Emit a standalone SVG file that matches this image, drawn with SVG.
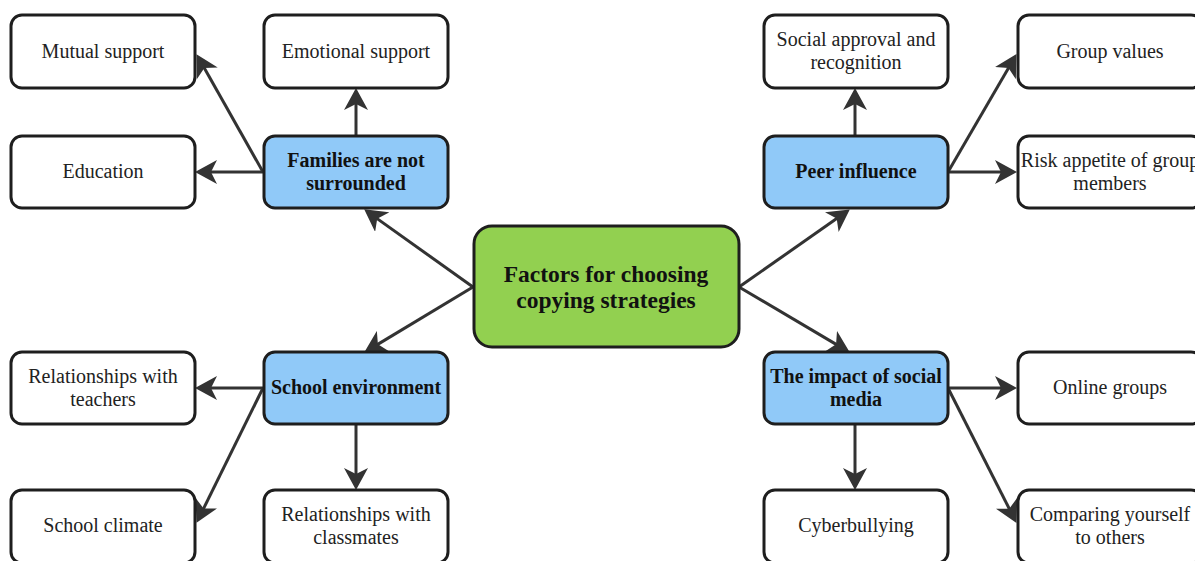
<svg xmlns="http://www.w3.org/2000/svg" width="1195" height="561" viewBox="0 0 1195 561">
<defs>
<marker id="ah" viewBox="0 0 22 24" refX="13" refY="12" markerWidth="22" markerHeight="24" markerUnits="userSpaceOnUse" orient="auto">
<path d="M0,0 L22,12 L0,24 L6,12 Z" fill="#333333"/>
</marker>
<style>
.leaf{fill:#ffffff;stroke:#1e1e1e;stroke-width:3}
.mid{fill:#90C9F8;stroke:#1e1e1e;stroke-width:3}
.root{fill:#92D050;stroke:#1e1e1e;stroke-width:3}
.t{font-family:"Liberation Serif","Times New Roman",serif;font-size:20px;fill:#222222;text-anchor:middle}
.b{font-family:"Liberation Serif","Times New Roman",serif;font-size:20px;font-weight:bold;fill:#111111;text-anchor:middle}
.c{font-family:"Liberation Serif","Times New Roman",serif;font-size:23.5px;font-weight:bold;fill:#111111;text-anchor:middle}
.e{fill:none;stroke:#333333;stroke-width:3;marker-end:url(#ah)}
</style>
</defs>
<rect width="1195" height="561" fill="#ffffff"/>
<g id="connectors">
<line class="e" x1="473" y1="287" x2="371.5" y2="214.6"/>
<line class="e" x1="473" y1="287" x2="371.9" y2="347.9"/>
<line class="e" x1="739" y1="287" x2="842.4" y2="214.6"/>
<line class="e" x1="739" y1="287" x2="842.1" y2="347.9"/>
<line class="e" x1="356" y1="135" x2="356" y2="97"/>
<line class="e" x1="263" y1="172" x2="204" y2="172"/>
<line class="e" x1="263" y1="172" x2="200.9" y2="62"/>
<line class="e" x1="855" y1="135" x2="855" y2="97"/>
<line class="e" x1="948" y1="172" x2="1008" y2="172"/>
<line class="e" x1="948" y1="172" x2="1012" y2="61.9"/>
<line class="e" x1="263" y1="388" x2="204" y2="388"/>
<line class="e" x1="263" y1="388" x2="200.5" y2="514.8"/>
<line class="e" x1="356" y1="425" x2="356" y2="481"/>
<line class="e" x1="948" y1="388" x2="1008" y2="388"/>
<line class="e" x1="948" y1="388" x2="1012.4" y2="514.9"/>
<line class="e" x1="855" y1="425" x2="855" y2="481"/>
</g>
<g id="root">
<rect class="root" x="474" y="226" width="265" height="121" rx="18"/>
<text class="c" x="606" y="282">Factors for choosing</text>
<text class="c" x="606" y="308">copying strategies</text>
</g>
<g id="families">
<rect class="mid" x="264" y="136" width="184" height="72" rx="11"/>
<text class="b" x="356" y="167">Families are not</text>
<text class="b" x="356" y="190">surrounded</text>
</g>
<g id="peer">
<rect class="mid" x="764" y="136" width="184" height="72" rx="11"/>
<text class="b" x="856" y="178">Peer influence</text>
</g>
<g id="school">
<rect class="mid" x="264" y="352" width="184" height="72" rx="11"/>
<text class="b" x="356" y="394">School environment</text>
</g>
<g id="social">
<rect class="mid" x="764" y="352" width="184" height="72" rx="11"/>
<text class="b" x="856" y="383">The impact of social</text>
<text class="b" x="856" y="406">media</text>
</g>
<g id="mutual">
<rect class="leaf" x="11" y="15" width="184" height="73" rx="11"/>
<text class="t" x="103" y="58">Mutual support</text>
</g>
<g id="emotional">
<rect class="leaf" x="264" y="15" width="184" height="73" rx="11"/>
<text class="t" x="356" y="58">Emotional support</text>
</g>
<g id="education">
<rect class="leaf" x="11" y="136" width="184" height="72" rx="11"/>
<text class="t" x="103" y="178">Education</text>
</g>
<g id="approval">
<rect class="leaf" x="764" y="15" width="184" height="73" rx="11"/>
<text class="t" x="856" y="46">Social approval and</text>
<text class="t" x="856" y="69">recognition</text>
</g>
<g id="groupvalues">
<rect class="leaf" x="1018" y="15" width="184" height="73" rx="11"/>
<text class="t" x="1110" y="58">Group values</text>
</g>
<g id="risk">
<rect class="leaf" x="1018" y="136" width="184" height="72" rx="11"/>
<text class="t" x="1110" y="167">Risk appetite of group</text>
<text class="t" x="1110" y="190">members</text>
</g>
<g id="teachers">
<rect class="leaf" x="11" y="352" width="184" height="72" rx="11"/>
<text class="t" x="103" y="383">Relationships with</text>
<text class="t" x="103" y="406">teachers</text>
</g>
<g id="climate">
<rect class="leaf" x="11" y="490" width="184" height="73" rx="11"/>
<text class="t" x="103" y="532">School climate</text>
</g>
<g id="classmates">
<rect class="leaf" x="264" y="490" width="184" height="73" rx="11"/>
<text class="t" x="356" y="521">Relationships with</text>
<text class="t" x="356" y="544">classmates</text>
</g>
<g id="online">
<rect class="leaf" x="1018" y="352" width="184" height="72" rx="11"/>
<text class="t" x="1110" y="394">Online groups</text>
</g>
<g id="cyber">
<rect class="leaf" x="764" y="490" width="184" height="73" rx="11"/>
<text class="t" x="856" y="532">Cyberbullying</text>
</g>
<g id="comparing">
<rect class="leaf" x="1018" y="490" width="184" height="73" rx="11"/>
<text class="t" x="1110" y="521">Comparing yourself</text>
<text class="t" x="1110" y="544">to others</text>
</g>
</svg>
